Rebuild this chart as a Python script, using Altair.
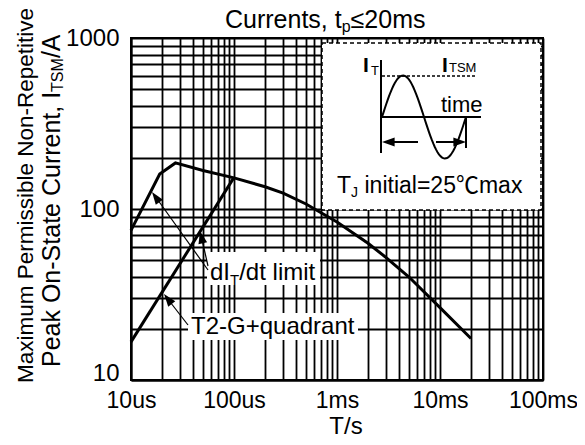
import math
import altair as alt
import pandas as pd
import numpy as np

# ---------------- data ----------------
CURVE_A_T = [1e-5, 1.9e-5, 2.7e-5, 5e-5, 1e-4, 2e-4, 3e-4, 5e-4, 1e-3, 2e-3, 3e-3, 5e-3, 1e-2, 2e-2]
CURVE_A_I = [75, 160, 186, 168, 152, 135, 124, 107, 84, 63, 52, 40, 26.5, 17.5]
CURVE_B_T = [1e-5, 1e-4]
CURVE_B_I = [16.7, 153]

X_TICK_VALUES = [m * 10.0 ** e for e in range(-5, -1) for m in range(1, 10)] + [1e-1]
X_TICK_LABELS = ["10us", "100us", "1ms", "10ms", "100ms"]
Y_TICK_VALUES = [m * 10.0 ** e for e in (1, 2) for m in range(1, 10)] + [1000]
Y_TICK_LABELS = ["10", "100", "1000"]

# ---------------- layout ----------------
W, H = 412, 342
PL, PT = 123, 30
PR = 585 - 16 - PL - W
PB = 445 - 16 - PT - H
X0, Y0 = 8 + PL, 8 + PT
FONT = "Liberation Sans, Arial, Noto Sans CJK SC, sans-serif"

XS = alt.Scale(type="log", domain=[1e-5, 1e-1], nice=False)
YS = alt.Scale(type="log", domain=[10, 1000], nice=False)

xl = "[" + ",".join(f"'{s}'" for s in X_TICK_LABELS) + "]"
yl = "[" + ",".join(f"'{s}'" for s in Y_TICK_LABELS) + "]"
LG = "(log(datum.value)/LN10)"
x_expr = f"abs({LG} - round({LG})) < 0.01 ? {xl}[round({LG}) + 5] : ''"
y_expr = f"abs({LG} - round({LG})) < 0.01 ? {yl}[round({LG}) - 1] : ''"

X_AXIS = alt.Axis(
    values=X_TICK_VALUES, labelExpr=x_expr, grid=True, gridColor="black",
    gridWidth=1.8, gridOpacity=1, ticks=False, domainColor="black", domainWidth=2,
    labelFont=FONT, labelFontSize=23, labelColor="black", labelPadding=9,
    labelFlush=False, labelOverlap=False, title=None,
)
Y_AXIS = alt.Axis(
    values=Y_TICK_VALUES, labelExpr=y_expr, grid=True, gridColor="black",
    gridWidth=1.8, gridOpacity=1, ticks=False, domainColor="black", domainWidth=2,
    labelFont=FONT, labelFontSize=24, labelColor="black", labelPadding=12,
    labelBaseline={"condition": {"test": "datum.value < 11", "value": "alphabetic"}, "value": "middle"},
    labelFlush=False, labelOverlap=False, title=None,
)


def t_of(px):
    return 1e-5 * 10 ** ((px - X0) / W * 4)


def i_of(py):
    return 10 * 10 ** ((Y0 + H - py) / H * 2)


def xe(field):
    return alt.X(field, type="quantitative", scale=XS, axis=X_AXIS)


def ye(field):
    return alt.Y(field, type="quantitative", scale=YS, axis=Y_AXIS)


# ---------------- curves ----------------
curves = pd.DataFrame(
    {
        "t": CURVE_A_T + CURVE_B_T,
        "i": CURVE_A_I + CURVE_B_I,
        "series": ["dIT/dt limit"] * len(CURVE_A_T) + ["T2-G+quadrant"] * len(CURVE_B_T),
        "order": list(range(len(CURVE_A_T))) + list(range(len(CURVE_B_T))),
    }
)

base = (
    alt.Chart(curves)
    .mark_line(color="black", strokeWidth=3)
    .encode(x=xe("t"), y=ye("i"), detail="series:N", order="order:Q")
)

# ---------------- annotation geometry (page pixels -> data) ----------------
def rect_df(boxes):
    return pd.DataFrame(
        [{"t": t_of(a), "t2": t_of(c), "i": i_of(b), "i2": i_of(d)} for a, b, c, d in boxes]
    )


inset_box = alt.Chart(rect_df([(322, 43, 541, 210)])).mark_rect(
    fill="white", stroke="black", strokeWidth=1.5, strokeDash=[4, 3]
).encode(x=xe("t"), x2="t2", y=ye("i"), y2="i2")

label_boxes = alt.Chart(rect_df([(207, 252, 320, 285), (188, 313, 358, 340)])).mark_rect(
    fill="white"
).encode(x=xe("t"), x2="t2", y=ye("i"), y2="i2")

seg = [
    # (x1, y1, x2, y2, width)
    (208, 270, 155, 196, 1.2),
    (208, 266, 201, 235, 1.2),
    (188, 325, 167, 298, 1.2),
    (386, 142, 418, 142, 2),
    (436, 142, 462, 142, 2),
    (381, 60, 381, 153, 2),
    (381, 117, 481, 117, 2),
    (466, 117, 466, 148, 2),
]
rules = alt.Chart(
    pd.DataFrame(
        [{"t": t_of(a), "t2": t_of(c), "i": i_of(b), "i2": i_of(d), "w": w} for a, b, c, d, w in seg]
    )
).mark_rule(color="black").encode(
    x=xe("t"), x2="t2", y=ye("i"), y2="i2", strokeWidth=alt.StrokeWidth("w:Q", scale=None)
)

dashed = alt.Chart(
    pd.DataFrame([{"t": t_of(382), "t2": t_of(477), "i": i_of(76), "i2": i_of(76)}])
).mark_rule(color="black", strokeWidth=1.5, strokeDash=[3, 2]).encode(
    x=xe("t"), x2="t2", y=ye("i"), y2="i2"
)

# sine icon of the inset (schematic drawing)
sx = np.linspace(382, 466, 60)
sy = 117 - 41.5 * np.sin(2 * np.pi * (sx - 382) / 84)
sine = alt.Chart(
    pd.DataFrame({"t": [t_of(v) for v in sx], "i": [i_of(v) for v in sy], "k": range(len(sx))})
).mark_line(color="black", strokeWidth=2).encode(x=xe("t"), y=ye("i"), order="k:Q")

# arrowheads: (tip x, tip y, tail x, tail y)
heads = [
    (152, 192, 208, 270),
    (200, 231, 208, 266),
    (164, 294, 188, 325),
    (382, 142, 400, 142),
    (466, 142, 440, 142),
]
head_df = pd.DataFrame(
    [
        {
            "t": t_of(a),
            "i": i_of(b),
            "ang": math.degrees(math.atan2(a - c, -(b - d))) % 360,
        }
        for a, b, c, d in heads
    ]
)
arrowheads = alt.Chart(head_df).mark_point(
    shape="M0,0L-0.7,2L0.7,2Z", filled=True, color="black", opacity=1, size=160, strokeWidth=0
).encode(x=xe("t"), y=ye("i"), angle=alt.Angle("ang:Q", scale=None))

# in-plot text pieces (text, left x, baseline y, size)
normal_txt = [
    ("dI", 210, 280, 24),
    ("T", 230, 285, 15),
    ("/dt limit", 239.2, 280, 24),
    ("T2-G+quadrant", 191, 334, 24),
    ("time", 441, 112, 22),
    ("T", 337, 193, 23),
    ("J", 351.1, 197, 14),
    ("initial=25℃max", 364.5, 193, 23),
    ("T", 371, 75, 13),
    ("TSM", 449, 72, 13),
]
bold_txt = [("I", 363, 72, 21), ("I", 442, 72, 21)]


def txt_layer(pieces, weight):
    df = pd.DataFrame(
        [{"txt": s, "t": t_of(x), "i": i_of(y), "fs": f} for s, x, y, f in pieces]
    )
    return alt.Chart(df).mark_text(
        font=FONT, align="left", baseline="alphabetic", color="black", fontWeight=weight
    ).encode(x=xe("t"), y=ye("i"), text="txt:N", size=alt.Size("fs:Q", scale=None))


# outside-plot titles
def px_text(s, x, y, size, align="left", angle=0):
    return alt.Chart(pd.DataFrame({"s": [s]})).mark_text(
        font=FONT, fontSize=size, align=align, baseline="alphabetic", angle=angle, color="black"
    ).encode(text="s:N", x=alt.value(x - X0), y=alt.value(y - Y0))


titles = [
    px_text("Currents, t", 225, 28, 25),
    px_text("p", 341.7, 32, 16),
    px_text("≤20ms", 350.6, 28, 25),
    px_text("Maximum Permissible Non-Repetitive", 33, 383, 22.5, angle=270),
    px_text("Peak On-State Current, I", 60, 367, 25, angle=270),
    px_text("TSM", 63, 91.9, 16, angle=270),
    px_text("/A", 60, 58.1, 25, angle=270),
    px_text("T/s", 346, 433.5, 24, align="center"),
]

chart = (
    alt.layer(
        base,
        inset_box,
        label_boxes,
        rules,
        dashed,
        sine,
        arrowheads,
        txt_layer(normal_txt, "normal"),
        txt_layer(bold_txt, "bold"),
        *titles,
    )
    .properties(
        width=W,
        height=H,
        padding={"left": PL, "top": PT, "right": PR, "bottom": PB},
        autosize=alt.AutoSizeParams(type="none"),
        background="white",
    )
    .configure_view(stroke="black", strokeWidth=2)
)

chart.save("out.html", embed_options={"renderer": "svg", "actions": False})
